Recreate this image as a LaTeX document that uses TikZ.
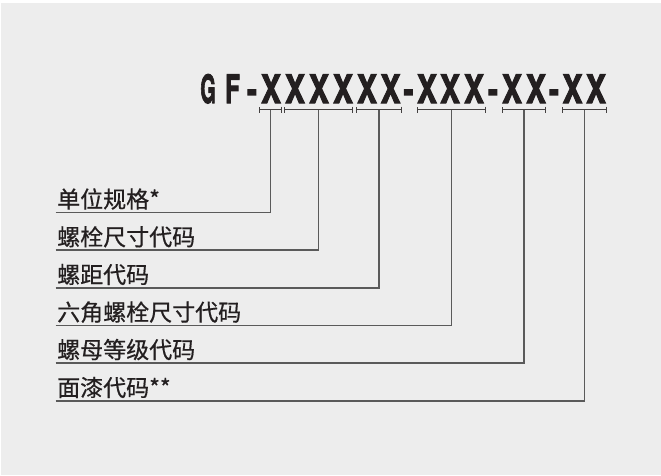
\documentclass[tikz,border=0pt]{standalone}
\usepackage{fontspec}
\setmainfont{TeX Gyre Heros}
\newfontfamily\codefont[FakeBold=3]{TeX Gyre Heros}
\newfontfamily\cjkfont[FakeBold=0.6]{Noto Sans CJK SC}
\usetikzlibrary{arrows.meta}
\definecolor{bggray}{HTML}{EDEDED}
\definecolor{linegray}{HTML}{5A5A5A}
\definecolor{inkdark}{HTML}{231F20}

\begin{document}
\begin{tikzpicture}[x=1pt,y=-1pt]
	\tikzset{codechar/.style={anchor=base,inner sep=0pt,font=\fontsize{39}{39}\codefont\bfseries,text=inkdark},
		labeltext/.style={anchor=base west,inner sep=0pt,font=\fontsize{23}{23}\selectfont\cjkfont,text=inkdark},
		bracket/.style={draw=inkdark!85,line width=1.2pt,{Bar[width=6pt]}-{Bar[width=6pt]}},
		leader/.style={draw=linegray,line width=1.6pt}}
	\useasboundingbox (0,0) rectangle (661,475);
	\fill[bggray] (1,3) rectangle (661,475);
	% the code, one character at a time
	\foreach \c/\x/\s [count=\k] in {G/208/0.5,F/232.5/0.62,-/252/0.76,
		X/271/0.76,X/295/0.76,X/319/0.76,X/343/0.76,X/367/0.76,X/390.5/0.76,-/408.5/0.76,
		X/427/0.76,X/450/0.76,X/474/0.76,-/493/0.76,
		X/512/0.76,X/536/0.76,-/554/0.76,X/572.5/0.76,X/596/0.76}
		\node[codechar] (c\k) at (\x,103) {\scalebox{\s}[1]{\c}};
	% brackets under the groups
	\foreach \a/\b [count=\k] in {259/282,284/353,356/402,417/486,502/546,562/607}{
		\draw[bracket] (\a,109.5) -- (\b,109.5);
		\coordinate (b\k) at ({(\a+\b)/2},109.5);
	}
	% labels and their leaders
	\foreach \t/\y [count=\k] in {单位规格*/212.3,螺栓尺寸代码/250,螺距代码/287.7,
		六角螺栓尺寸代码/325.3,螺母等级代码/362.8,面漆代码**/400.7}{
		\node[labeltext] (l\k) at (57,{\y-4.5}) {\t};
		\coordinate (u\k) at (55.7,\y);
		\draw[leader] (u\k) -| (b\k);
	}
\end{tikzpicture}
\end{document}
